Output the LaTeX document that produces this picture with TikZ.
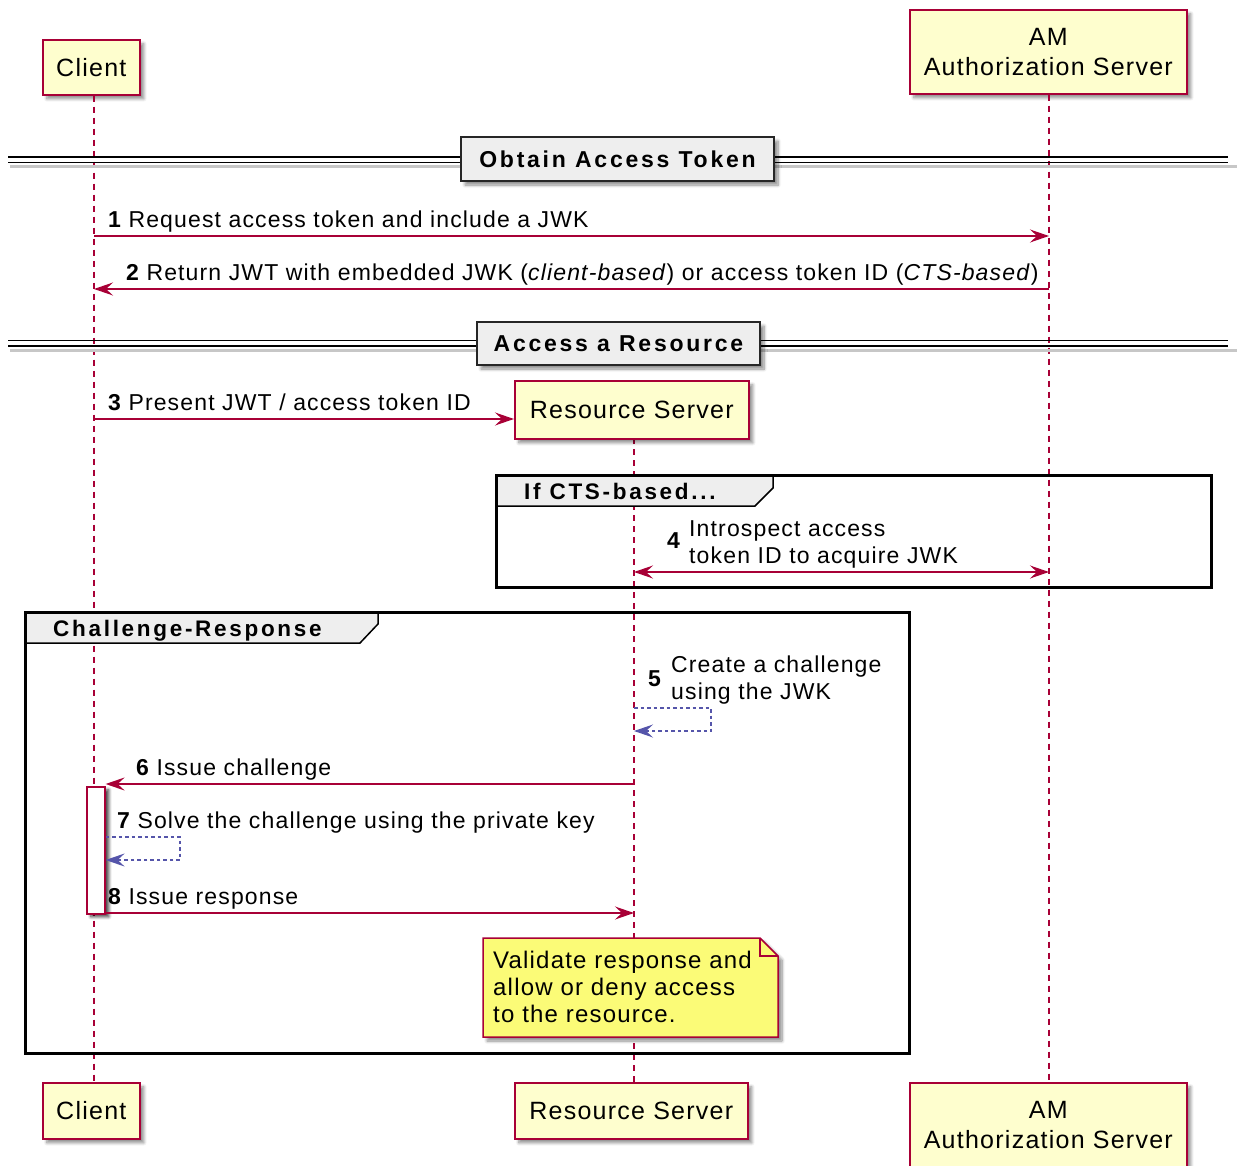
\documentclass[tikz,border=0pt]{standalone}
\usepackage{fontspec}
\setmainfont[LetterSpace=5]{Liberation Sans}
\newfontfamily\headfont[LetterSpace=12]{Liberation Sans}
\usetikzlibrary{arrows.meta,shadows.blur}

\definecolor{umlred}{HTML}{A80036}
\definecolor{partfill}{HTML}{FEFECE}
\definecolor{notefill}{HTML}{FBFB77}
\definecolor{selfblue}{HTML}{5555AA}
\definecolor{tabfill}{HTML}{EEEEEE}
\newcommand\mainsz{\fontsize{25}{30}\selectfont}
\newcommand\labsz{\fontsize{23}{27}\selectfont}
\newcommand\notesz{\fontsize{24}{27}\selectfont}

\begin{document}
\begin{tikzpicture}[x=1pt,y=-1pt,
  softshadow/.style={blur shadow={shadow xshift=4pt,shadow yshift=-4pt,
      shadow blur radius=3pt,shadow blur steps=8,shadow opacity=45}},
  darkshadow/.style={blur shadow={shadow xshift=4pt,shadow yshift=-3pt,
      shadow blur radius=3pt,shadow blur steps=8,shadow opacity=75}},
  part/.style={draw=umlred,line width=1.6pt,fill=partfill,inner sep=0pt,
      align=center,font=\mainsz,softshadow},
  lifeline/.style={draw=umlred,line width=1.3pt,dash pattern=on 6pt off 5pt},
  msgtip/.tip={Stealth[length=19pt,width=13pt,inset=7pt]},
  msg/.style={draw=umlred,line width=1.6pt,-{msgtip[umlred]}},
  selfmsg/.style={draw=selfblue,line width=1.3pt,dash pattern=on 3.5pt off 3pt,
      -{msgtip[selfblue]}},
  lab/.style={anchor=base west,inner sep=0pt,font=\labsz},
  numlab/.style={anchor=base west,inner sep=0pt,font=\labsz\bfseries},
  notelab/.style={anchor=base west,inner sep=0pt,font=\notesz},
  divbox/.style={draw=black!85,line width=2pt,fill=tabfill,inner sep=0pt,
      font=\fontsize{23}{27}\headfont\bfseries,softshadow},
  grouptab/.style={fill=tabfill,draw=black,line width=1.5pt},
  frame/.style={draw=black,line width=3pt},
  grouplab/.style={anchor=base west,inner sep=0pt,font=\fontsize{22.5}{27}\headfont\bfseries},
  activation/.style={draw=umlred,line width=1.6pt,fill=white,inner sep=0pt,darkshadow}
]
\path[use as bounding box] (0,0) rectangle (1237,1166);
\clip (0,0) rectangle (1237,1166);

% lifeline columns and message rows
\coordinate (cL) at (94,0);
\coordinate (rsL) at (634,0);
\coordinate (amL) at (1049,0);
\coordinate (r1) at (0,236);
\coordinate (r2) at (0,289);
\coordinate (r3) at (0,419);
\coordinate (r4) at (0,572);
\coordinate (r5a) at (0,708);
\coordinate (r5b) at (0,731);
\coordinate (r6) at (0,784);
\coordinate (r7a) at (0,837);
\coordinate (r7b) at (0,860);
\coordinate (r8) at (0,913);

% participants
\node[part,anchor=north west,minimum width=97pt,minimum height=55pt] (cTop) at (42,39) {Client};
\node[part,anchor=north west,minimum width=277pt,minimum height=84pt] (amTop) at (909,9) {AM\\Authorization Server};
\node[part,anchor=north west,minimum width=97pt,minimum height=56pt] (cBot) at (42,1082) {Client};
\node[part,anchor=north west,minimum width=233pt,minimum height=56pt] (rsBot) at (514,1082) {Resource Server};
\node[part,anchor=north west,minimum width=277pt,minimum height=84pt] (amBot) at (909,1082) {AM\\Authorization Server};

% lifelines
\draw[lifeline] (cTop.south -| cL) -- (cBot.north -| cL);
\draw[lifeline] (amTop.south -| amL) -- (amBot.north -| amL);
\draw[lifeline] (634,438) -- (rsBot.north -| rsL);

% created participant
\node[part,anchor=north west,minimum width=234pt,minimum height=58pt] (rsTop) at (514,380) {Resource Server};

% group frames
\draw[frame] (496,475) rectangle (1211,587);
\filldraw[grouptab] (496,475) -- (773,475) -- (773,488) -- (755,506) -- (496,506) -- cycle;
\draw[frame] (496,475) rectangle (1211,587);
\node[grouplab] (g1) at (524,499) {If CTS-based...};

\draw[frame] (25,612) rectangle (909,1053);
\filldraw[grouptab] (25,612) -- (378,612) -- (378,624) -- (360,643) -- (25,643) -- cycle;
\draw[frame] (25,612) rectangle (909,1053);
\node[grouplab] (g2) at (53,636) {Challenge-Response};

% dividers
\fill[black!22] (10,165) rectangle (1237,168.5);
\draw[line width=1.5pt] (8,157) -- (1228,157) (8,162.5) -- (1228,162.5);
\node[divbox,minimum width=313pt,minimum height=44pt] (d1) at (617.5,159) {Obtain Access Token\hspace{13pt}};

\fill[black!22] (10,348.5) rectangle (1237,352);
\draw[line width=1.5pt] (8,340.5) -- (1228,340.5) (8,346) -- (1228,346);
\node[divbox,minimum width=283pt,minimum height=43pt] (d2) at (618.5,343.5) {Access a Resource\hspace{13pt}};

% messages
\draw[msg] (cL |- r1) -- (amL |- r1);
\node[lab] (l1) at (108,228) {{\bfseries 1} Request access token and include a JWK};

\draw[msg] (amL |- r2) -- (cL |- r2);
\node[lab] (l2) at (126,281) {{\bfseries 2} Return JWT with embedded JWK (\textit{client-based}) or access token ID (\textit{CTS-based})};

\draw[msg] (cL |- r3) -- (rsTop.west |- r3);
\node[lab] (l3) at (108,410) {{\bfseries 3} Present JWT / access token ID};

\draw[msg,{msgtip[umlred]}-{msgtip[umlred]}] (rsL |- r4) -- (amL |- r4);
\node[numlab] (n4) at (667,548) {4};
\node[lab] (l4a) at (689,536) {Introspect access};
\node[lab] (l4b) at (689,563) {token ID to acquire JWK};

\draw[selfmsg] (rsL |- r5a) -- (711,708) |- (rsL |- r5b);
\node[numlab] (n5) at (648,686) {5};
\node[lab] (l5a) at (671,672) {Create a challenge};
\node[lab] (l5b) at (671,699) {using the JWK};

% activation on the client
\node[activation,anchor=north west,minimum width=18pt,minimum height=127pt] (act) at (86,786) {};

\draw[msg] (rsL |- r6) -- (act.east |- r6);
\node[lab] (l6) at (136,775) {{\bfseries 6} Issue challenge};

\draw[selfmsg] (act.east |- r7a) -- (180,837) |- (act.east |- r7b);
\node[lab] (l7) at (117,828) {{\bfseries 7} Solve the challenge using the private key};

\draw[msg] (act.east |- r8) -- (rsL |- r8);
\node[lab] (l8) at (108,904) {{\bfseries 8} Issue response};

% note
\filldraw[fill=notefill,draw=umlred,line width=1.5pt,softshadow]
  (483,938) -- (760,938) -- (778,956) -- (778,1037) -- (483,1037) -- cycle;
\draw[umlred,line width=1.2pt] (760,938) -- (760,956) -- (778,956);
\node[notelab] (nt1) at (493,968) {Validate response and};
\node[notelab] (nt2) at (493,995) {allow or deny access};
\node[notelab] (nt3) at (493,1022) {to the resource.};
\end{tikzpicture}
\end{document}
